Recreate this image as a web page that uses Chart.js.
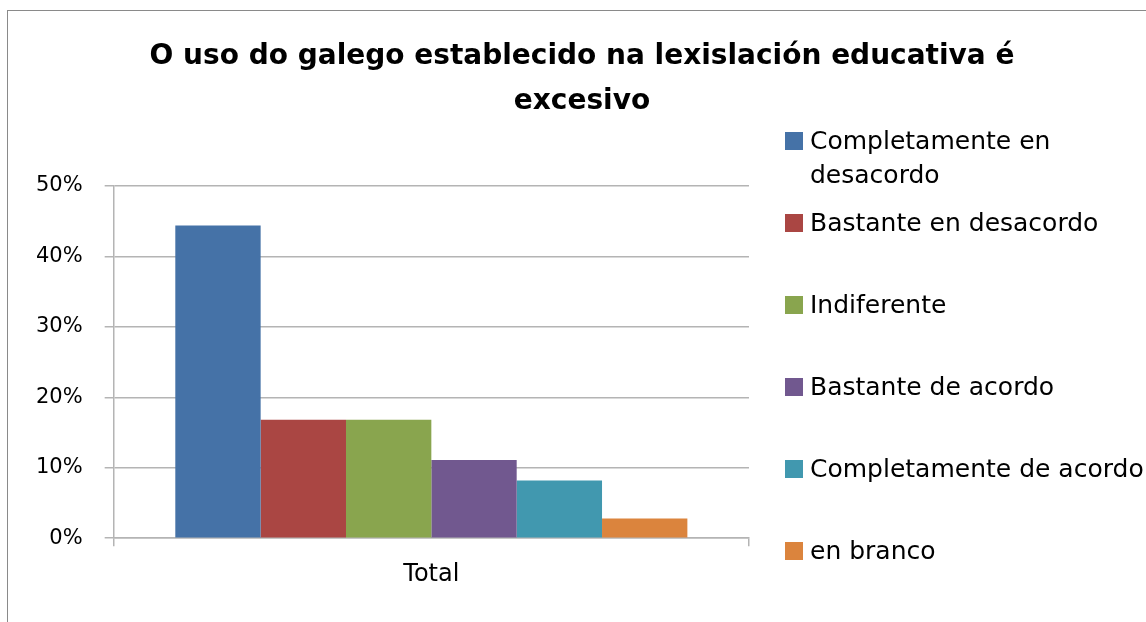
<!DOCTYPE html>
<html>
<head>
<meta charset="utf-8">
<script src="https://cdn.jsdelivr.net/npm/chart.js@4"></script>
<style>
    html, body { margin: 0; padding: 0; background: #fff; overflow: hidden; }
    #wrap { position: relative; width: 1146px; height: 622px; overflow: hidden; }
    #frame { position: absolute; left: 7px; top: 10px; width: 2000px; height: 2000px;
             border-left: 1.5px solid #8a8a8a; border-top: 1.5px solid #8a8a8a; }
    #chartBox { position: absolute; left: 0; top: 0; width: 1146px; height: 622px; }
    #title { position: absolute; left: 0; top: 32px; width: 1164px; text-align: center;
             font: bold 28px "DejaVu Sans", sans-serif; line-height: 45px; color: #000; }
    #legend { position: absolute; left: 785px; top: 124px; width: 400px; }
    .item { display: flex; align-items: flex-start; height: 82px; }
    .swatch { width: 18px; height: 18px; margin-top: 8px; margin-right: 7px; flex: none; }
    .label { width: 350px; font: 25px "DejaVu Sans", sans-serif; line-height: 34px; color: #000; }
</style>
</head>
<body>
<div id="wrap">
    <div id="frame"></div>
    <div id="chartBox"><canvas id="barChart"></canvas></div>
    <div id="title">O uso do galego establecido na lexislación educativa é<br>excesivo</div>
    <div id="legend"></div>
</div>
<script>
// Data
const categories = ['Total'];
const seriesNames = ['Completamente en desacordo', 'Bastante en desacordo', 'Indiferente',
                     'Bastante de acordo', 'Completamente de acordo', 'en branco'];
const seriesValues = [44.4, 16.8, 16.8, 11.1, 8.2, 2.8];
const seriesColors = ['#4572A7', '#AA4643', '#89A54E', '#71588F', '#4198AF', '#DB843D'];
const yTicks = [0, 10, 20, 30, 40, 50];

const axisGray = '#b4b4b4';

const ctx = document.getElementById('barChart').getContext('2d');
new Chart(ctx, {
    type: 'bar',
    data: {
        labels: categories,
        datasets: seriesNames.map((name, i) => ({
            label: name,
            data: [seriesValues[i]],
            backgroundColor: seriesColors[i],
            borderWidth: 0,
            categoryPercentage: 0.806,
            barPercentage: 1.0
        }))
    },
    options: {
        responsive: true,
        maintainAspectRatio: false,
        animation: false,
        layout: { padding: { left: 14, top: 186, right: 397, bottom: 19 } },
        plugins: {
            legend: { display: false },
            title: { display: false },
            tooltip: { enabled: false }
        },
        scales: {
            x: {
                offset: true,
                grid: { drawOnChartArea: false, drawTicks: true, tickLength: 8, color: axisGray, lineWidth: 1.5 },
                border: { color: axisGray, width: 1.5 },
                ticks: { color: '#000', font: { family: 'DejaVu Sans', size: 24 }, padding: 14 }
            },
            y: {
                min: yTicks[0],
                max: yTicks[yTicks.length - 1],
                afterBuildTicks: axis => { axis.ticks = yTicks.map(v => ({ value: v })); },
                grid: { color: axisGray, lineWidth: 1.5, tickLength: 9 },
                border: { color: axisGray, width: 1.5 },
                ticks: {
                    color: '#000',
                    font: { family: 'DejaVu Sans', size: 21 },
                    padding: 22,
                    callback: v => v + '%'
                }
            }
        }
    }
});

// Legend built from the same arrays
const legendEl = document.getElementById('legend');
seriesNames.forEach((name, i) => {
    const row = document.createElement('div');
    row.className = 'item';
    row.innerHTML = `<span class="swatch" style="background:${seriesColors[i]}"></span><span class="label">${name}</span>`;
    legendEl.appendChild(row);
});
</script>
</body>
</html>
